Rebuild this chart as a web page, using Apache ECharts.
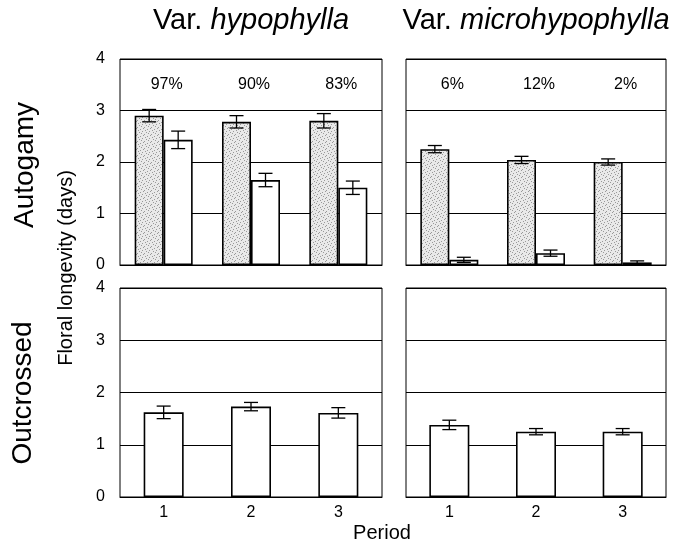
<!DOCTYPE html>
<html>
<head>
<meta charset="utf-8">
<script src="https://cdn.jsdelivr.net/npm/echarts@6/dist/echarts.min.js"></script>
<style>
  html, body { margin: 0; padding: 0; background: #fff; }
  #main { width: 673px; height: 544px; }
</style>
</head>
<body>
<div id="main"></div>
<script>
// periods on x axis
var periods = ['1', '2', '3'];

// Autogamy, var. hypophylla (shaded / open bars) with error half-widths
var autoHypoShaded = [2.90, 2.78, 2.80];
var autoHypoShadedErr = [0.12, 0.12, 0.14];
var autoHypoOpen = [2.43, 1.65, 1.50];
var autoHypoOpenErr = [0.17, 0.13, 0.13];

// Autogamy, var. microhypophylla
var autoMicroShaded = [2.25, 2.04, 2.00];
var autoMicroShadedErr = [0.07, 0.07, 0.06];
var autoMicroOpen = [0.10, 0.23, 0.05];
var autoMicroOpenErr = [0.05, 0.06, 0.03];

// Outcrossed
var outHypo = [1.62, 1.73, 1.61];
var outHypoErr = [0.12, 0.08, 0.10];
var outMicro = [1.38, 1.25, 1.25];
var outMicroErr = [0.09, 0.06, 0.06];

// percentages printed above the autogamy bars
var pctHypo = ['97%', '90%', '83%'];
var pctMicro = ['6%', '12%', '2%'];

var font = 'Liberation Sans, Arial, sans-serif';

// stippled fill for the shaded bars
function stipple() {
  var c = document.createElement('canvas');
  c.width = 7; c.height = 7;
  var g = c.getContext('2d');
  g.fillStyle = '#e9e9e9';
  g.fillRect(0, 0, 7, 7);
  g.fillStyle = '#999';
  [[1,0],[4,1],[0,3],[5,4],[2,5],[6,6],[3,2]].forEach(function (p) {
    g.fillRect(p[0], p[1], 1, 1);
  });
  return c;
}
var shadedFill = { image: stipple(), repeat: 'repeat' };

var grids = [
  { left: 120, top: 59, width: 262, height: 206 },
  { left: 406, top: 59, width: 260, height: 206 },
  { left: 120, top: 288, width: 262, height: 209 },
  { left: 406, top: 288, width: 260, height: 209 }
].map(function (g) {
  g.show = true; g.borderColor = '#000'; g.borderWidth = 1;
  return g;
});

function xAx(i, labels) {
  return {
    type: 'category', gridIndex: i, data: periods,
    axisTick: { show: false },
    axisLine: { lineStyle: { color: '#000', width: 1 } },
    axisLabel: { show: labels, color: '#000', fontSize: 16, fontFamily: font, margin: 8 }
  };
}
function yAx(i, labels) {
  return {
    type: 'value', gridIndex: i, min: 0, max: 4, interval: 1,
    axisTick: { show: false },
    axisLine: { show: false },
    axisLabel: { show: labels, color: '#000', fontSize: 16, fontFamily: font, margin: 15 },
    splitLine: { lineStyle: { color: '#000', width: 1 } }
  };
}

function bar(i, vals, fill, width) {
  return {
    type: 'bar', xAxisIndex: i, yAxisIndex: i, data: vals,
    barWidth: width, barGap: '0%',
    itemStyle: { color: fill, borderColor: '#000', borderWidth: 1.6 },
    z: 2
  };
}

function errBars(i, vals, errs, offset, cap) {
  return {
    type: 'custom', xAxisIndex: i, yAxisIndex: i, z: 5,
    data: vals.map(function (v, k) { return [k, v, errs[k]]; }),
    renderItem: function (params, api) {
      var x = api.value(0), v = api.value(1), e = api.value(2);
      var hi = api.coord([x, v + e]), lo = api.coord([x, v - e]);
      var cx = hi[0] + offset;
      var st = { stroke: '#000', lineWidth: 1.3 };
      return {
        type: 'group', children: [
          { type: 'line', shape: { x1: cx, y1: hi[1], x2: cx, y2: lo[1] }, style: st },
          { type: 'line', shape: { x1: cx - cap, y1: hi[1], x2: cx + cap, y2: hi[1] }, style: st },
          { type: 'line', shape: { x1: cx - cap, y1: lo[1], x2: cx + cap, y2: lo[1] }, style: st }
        ]
      };
    }
  };
}

function pctLabels(i, labels) {
  return {
    type: 'custom', xAxisIndex: i, yAxisIndex: i, z: 5,
    data: labels.map(function (l, k) { return [k, 3.5]; }),
    renderItem: function (params, api) {
      var p = api.coord([api.value(0), api.value(1)]);
      return {
        type: 'text', x: p[0] + 3, y: p[1],
        style: { text: labels[params.dataIndex], fill: '#000', font: '16px ' + font,
                 align: 'center', verticalAlign: 'middle', textAlign: 'center', textVerticalAlign: 'middle' }
      };
    }
  };
}

function label(txt, x, y, size, rot, rich) {
  var st = { text: txt, fill: '#000', font: size + 'px ' + font,
             align: 'center', verticalAlign: 'middle', textAlign: 'center', textVerticalAlign: 'middle' };
  if (rich) st.rich = rich;
  return { type: 'text', x: x, y: y, rotation: rot ? Math.PI / 2 : 0, style: st };
}

var titleRich = {
  n: { fontSize: 29, fontFamily: font, fill: '#000', color: '#000' },
  i: { fontSize: 29, fontFamily: font, fill: '#000', color: '#000', fontStyle: 'italic' }
};

var option = {
  animation: false,
  backgroundColor: '#fff',
  grid: grids,
  xAxis: [xAx(0, false), xAx(1, false), xAx(2, true), xAx(3, true)],
  yAxis: [yAx(0, true), yAx(1, false), yAx(2, true), yAx(3, false)],
  series: [
    bar(0, autoHypoShaded, shadedFill, 29),
    bar(0, autoHypoOpen, '#fff', 29),
    errBars(0, autoHypoShaded, autoHypoShadedErr, -14.5, 7),
    errBars(0, autoHypoOpen, autoHypoOpenErr, 14.5, 7),
    pctLabels(0, pctHypo),

    bar(1, autoMicroShaded, shadedFill, 29),
    bar(1, autoMicroOpen, '#fff', 29),
    errBars(1, autoMicroShaded, autoMicroShadedErr, -14.5, 7),
    errBars(1, autoMicroOpen, autoMicroOpenErr, 14.5, 7),
    pctLabels(1, pctMicro),

    bar(2, outHypo, '#fff', 40),
    errBars(2, outHypo, outHypoErr, 0, 7),

    bar(3, outMicro, '#fff', 40),
    errBars(3, outMicro, outMicroErr, 0, 7)
  ],
  graphic: [
    label('{n|Var. }{i|hypophylla}', 251, 21, 29, false, titleRich),
    label('{n|Var. }{i|microhypophylla}', 536, 21, 29, false, titleRich),
    label('Autogamy', 25, 165, 28, true),
    label('Outcrossed', 23, 393, 28, true),
    label('Floral longevity (days)', 66, 268, 20, true),
    label('Period', 382, 533, 20, false)
  ]
};

var chart = echarts.init(document.getElementById('main'));
chart.setOption(option);
</script>
</body>
</html>
